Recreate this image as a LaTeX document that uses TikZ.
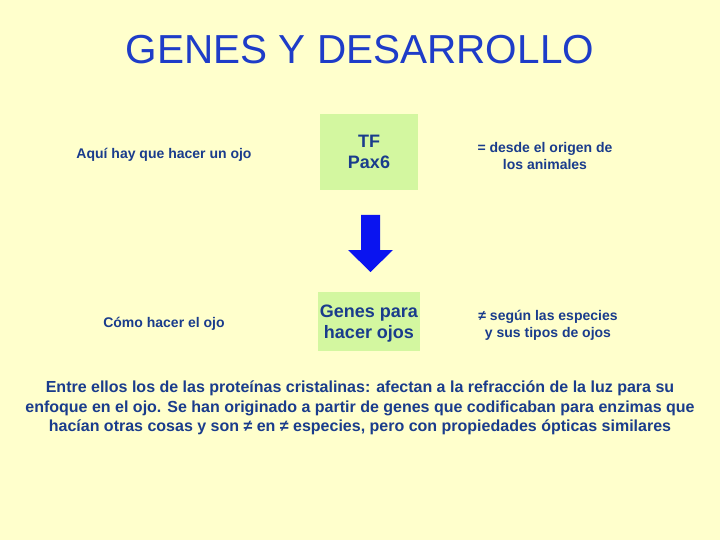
\documentclass[tikz,border=0pt]{standalone}
\usepackage{fontspec}
\setmainfont{Liberation Sans}
\definecolor{bg}{HTML}{FFFFCC}
\definecolor{boxgreen}{HTML}{D3F7A0}
\definecolor{txtblue}{HTML}{1A3C8C}
\definecolor{titleblue}{HTML}{1E3CC8}
\definecolor{arrowblue}{HTML}{0A14F0}
\begin{document}
\begin{tikzpicture}[x=1pt,y=-1pt,
  lbl/.style={text=txtblue,font=\fontsize{14}{17}\selectfont\bfseries,align=center},
  boxtxt/.style={fill=boxgreen,text=txtblue,font=\fontsize{18}{21}\selectfont\bfseries,align=center,inner sep=0pt},
  para/.style={text=txtblue,font=\fontsize{16}{19.5}\selectfont\bfseries,align=center}]
\fill[bg] (0,0) rectangle (720,540);
\useasboundingbox (0,0) rectangle (720,540);
\node[text=titleblue,font=\fontsize{40.5}{44}\selectfont] (title) at (360,50) {GENES Y DESARROLLO};
\node[lbl] (q1) at (164,155) {Aquí hay que hacer un ojo};
\node[lbl] (q2) at (164,324) {Cómo hacer el ojo};
\node[boxtxt,minimum width=98pt,minimum height=76pt] (tf) at (369,152) {TF\\Pax6};
\node[boxtxt,minimum width=102pt,minimum height=59pt] (genes) at (369,321.5) {};
\node[text=txtblue,font=\fontsize{18}{21}\selectfont\bfseries,align=center] (gtxt) at (369,324) {Genes para\\hacer ojos};
\node[lbl] (r1) at (545,156) {= desde el origen de\\los animales};
\node[lbl] (r2) at (548,325) {≠ según las especies\\y sus tipos de ojos};
\fill[arrowblue] (361,215) -- (380,215) -- (380,250) -- (393,250) -- (370.5,272) -- (348,250) -- (361,250) -- cycle;
\node[para] (p) at (360,408) {Entre ellos los de las proteínas cristalinas: afectan a la refracción de la luz para su\\enfoque en el ojo. Se han originado a partir de genes que codificaban para enzimas que\\hacían otras cosas y son ≠ en ≠ especies, pero con propiedades ópticas similares};
\end{tikzpicture}
\end{document}
